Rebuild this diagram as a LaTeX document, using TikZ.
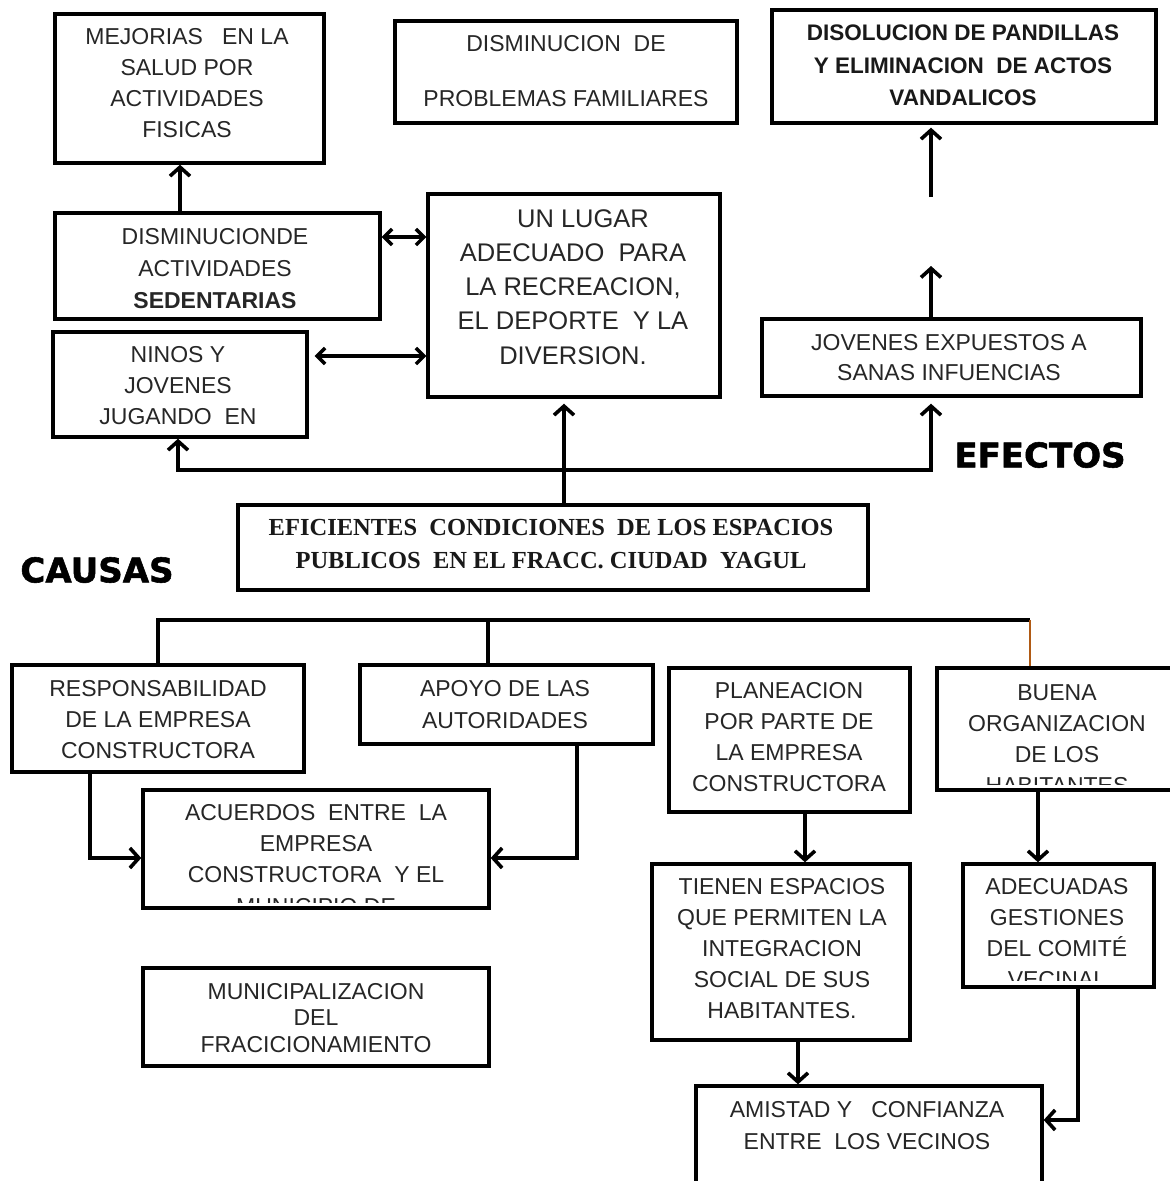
\documentclass[tikz,border=0pt]{standalone}
\usepackage{fontspec}
\setmainfont{Liberation Sans}
\newfontfamily\serifbold{Liberation Serif}
\newfontfamily\heavyfont[FakeBold=1.6]{DejaVu Sans Bold}
\usetikzlibrary{arrows.meta}

\begin{document}
\begin{tikzpicture}[x=1pt,y=-1pt,
  box/.style={draw=black, line width=3.4pt, rectangle, inner sep=0pt},
  txt/.style={inner sep=0pt, align=center, anchor=north, text=black!85,
    font=\fontsize{23}{31}\selectfont},
  txtb/.style={txt, text=black!90, font=\bfseries\fontsize{22.5}{32.5}\selectfont},
  big/.style={txt, font=\fontsize{25.5}{34.25}\selectfont},
  serifhead/.style={txt, text=black!90, font=\serifbold\bfseries\fontsize{24.5}{33}\selectfont},
  heading/.style={inner sep=0pt, font=\heavyfont\fontsize{34}{34}\selectfont},
  link/.style={line width=3.2pt},
  arr/.style={line width=3.2pt, -{Straight Barb[length=9pt,width=20pt,line width=3.6pt]}},
  darr/.style={line width=3.2pt, {Straight Barb[length=8pt,width=16pt,line width=3.4pt]}-{Straight Barb[length=8pt,width=16pt,line width=3.4pt]}}
]
\definecolor{rust}{RGB}{176,90,20}
\useasboundingbox (0,0) rectangle (1170,1181);
\clip (0,0) rectangle (1170,1181);
\fill[white] (0,0) rectangle (1170,1181);

% ---------- effects (upper half) ----------
\node[box, minimum width=269pt, minimum height=149pt] (mej) at (189.5,88.5) {};
\node[txt] (t-mej) at (187,28) {MEJORIAS\ \ \ EN LA\\SALUD POR\\ACTIVIDADES\\FISICAS};

\node[box, minimum width=342pt, minimum height=102pt] (fam) at (566,72) {};
\node[txt] (t-fam) at (566,35) {DISMINUCION\ \ DE\\[24pt]PROBLEMAS FAMILIARES};

\node[box, minimum width=384pt, minimum height=113pt] (dis) at (964,66.5) {};
\node[txtb] (t-dis) at (963,25) {DISOLUCION DE PANDILLAS\\Y ELIMINACION\ \ DE ACTOS\\VANDALICOS};

\node[box, minimum width=325pt, minimum height=106pt] (sed) at (217.5,266) {};
\node[txt, font=\fontsize{23}{32}\selectfont] (t-sed) at (215,228) {DISMINUCIONDE\\ACTIVIDADES\\\textbf{SEDENTARIAS}};

\node[box, minimum width=292pt, minimum height=203pt] (lug) at (574,295.5) {};
\node[big] (t-lug) at (573,209) {\hspace*{20pt}UN LUGAR\\ADECUADO\ \ PARA\\LA RECREACION,\\EL DEPORTE\ \ Y LA\\DIVERSION.};

\node[box, minimum width=254pt, minimum height=105pt] (nin) at (180,384.5) {};
\node[txt] (t-nin) at (178,346) {NINOS Y\\JOVENES\\JUGANDO\ \ EN};

\node[box, minimum width=379pt, minimum height=77pt] (jov) at (951.5,357.5) {};
\node[txt, font=\fontsize{23}{30}\selectfont] (t-jov) at (949,334) {JOVENES EXPUESTOS A\\SANAS INFUENCIAS};

% ---------- central problem ----------
\node[box, minimum width=630pt, minimum height=85pt] (efi) at (553,547.5) {};
\node[serifhead] (t-efi) at (551,519) {EFICIENTES\ \ CONDICIONES\ \ DE LOS ESPACIOS\\PUBLICOS\ \ EN EL FRACC. CIUDAD\ \ YAGUL};

\node[heading] (efectos) at (1040,455) {EFECTOS};
\node[heading] (causas) at (97,570) {CAUSAS};

% ---------- causes (lower half) ----------
\node[box, minimum width=292pt, minimum height=107pt] (res) at (158,718.5) {};
\node[txt] (t-res) at (158,680) {RESPONSABILIDAD\\DE LA EMPRESA\\CONSTRUCTORA};

\node[box, minimum width=293pt, minimum height=79pt] (apo) at (506.5,704.5) {};
\node[txt, font=\fontsize{23}{32}\selectfont] (t-apo) at (505,680) {APOYO DE LAS\\AUTORIDADES};

\node[box, minimum width=241pt, minimum height=144pt] (pla) at (789.5,740) {};
\node[txt] (t-pla) at (789,682) {PLANEACION\\POR PARTE DE\\LA EMPRESA\\CONSTRUCTORA};

\node[box, minimum width=250pt, minimum height=122pt] (bue) at (1062,729) {};
\begin{scope}
  \clip ([xshift=1.5pt,yshift=-1.5pt]bue.north west) rectangle ([xshift=-1.5pt,yshift=7pt]bue.south east);
  \node[txt, font=\fontsize{23}{31.3}\selectfont] (t-bue) at (1057,684) {BUENA\\ORGANIZACION\\DE LOS\\HABITANTES};
\end{scope}

\node[box, minimum width=346pt, minimum height=118pt] (acu) at (316,849) {};
\begin{scope}
  \clip ([xshift=1.5pt,yshift=-1.5pt]acu.north west) rectangle ([xshift=-1.5pt,yshift=7pt]acu.south east);
  \node[txt, font=\fontsize{23}{31.3}\selectfont] (t-acu) at (316,804) {ACUERDOS\ \ ENTRE\ \ LA\\EMPRESA\\CONSTRUCTORA\ \ Y EL\\MUNICIPIO DE};
\end{scope}

\node[box, minimum width=346pt, minimum height=98pt] (mun) at (316,1017) {};
\node[txt, font=\fontsize{23}{26.5}\selectfont] (t-mun) at (316,983) {MUNICIPALIZACION\\DEL\\FRACICIONAMIENTO};

\node[box, minimum width=258pt, minimum height=176pt] (tie) at (781,952) {};
\node[txt] (t-tie) at (782,878) {TIENEN ESPACIOS\\QUE PERMITEN LA\\INTEGRACION\\SOCIAL DE SUS\\HABITANTES.};

\node[box, minimum width=191pt, minimum height=123pt] (ade) at (1058.5,925.5) {};
\begin{scope}
  \clip ([xshift=1.5pt,yshift=-1.5pt]ade.north west) rectangle ([xshift=-1.5pt,yshift=8pt]ade.south east);
  \node[txt] (t-ade) at (1057,878) {ADECUADAS\\GESTIONES\\DEL COMITÉ\\VECINAL};
\end{scope}

\node[box, minimum width=346pt, minimum height=114pt] (ami) at (869,1143) {};
\node[txt, font=\fontsize{23}{32}\selectfont] (t-ami) at (867,1101) {AMISTAD Y\ \ \ CONFIANZA\\ENTRE\ \ LOS VECINOS};

% ---------- guide coordinates ----------
\coordinate (c1) at (180,0);
\coordinate (c2) at (564,0);
\coordinate (c3) at (178,0);
\coordinate (c4) at (931,0);
\coordinate (c5) at (488,0);
\coordinate (c6) at (1030,0);
\coordinate (c7) at (90,0);
\coordinate (c8) at (577,0);
\coordinate (c9) at (805,0);
\coordinate (c10) at (1038,0);
\coordinate (c11) at (798,0);
\coordinate (c12) at (1078,0);
\coordinate (r1) at (0,237);
\coordinate (r2) at (0,356);
\coordinate (r3) at (0,470);
\coordinate (r4) at (0,620);
\coordinate (r5) at (0,858);
\coordinate (r6) at (0,1120);
\coordinate (e1) at (931,266);
\coordinate (e2) at (931,197);

% ---------- effect connectors ----------
\draw[arr] (sed.north -| c1) -- (mej.south -| c1);
\draw[darr] (sed.east |- r1) -- (lug.west |- r1);
\draw[darr, shorten <=6pt] (nin.east |- r2) -- (lug.west |- r2);
\draw[arr, shorten >=5pt] (efi.north -| c2) -- (lug.south -| c2);
\draw[arr] (efi.north -| c2) |- (c3 |- r3) -- (nin.south -| c3);
\draw[arr, shorten >=6pt] (efi.north -| c2) |- (c4 |- r3) -- (jov.south -| c4);
\draw[arr] (jov.north -| c4) -- (e1);
\draw[arr, shorten >=3pt] (e2) -- (dis.south -| c4);

% ---------- cause connectors ----------
\draw[link] (res.north) |- (c6 |- r4);
\draw[link] (c5 |- r4) -- (apo.north -| c5);
\draw[link, draw=rust, line width=2.5pt] (c6 |- r4) -- (bue.north -| c6);
\draw[arr] (res.south -| c7) |- (acu.west |- r5);
\draw[arr] (apo.south -| c8) |- (acu.east |- r5);
\draw[arr] (pla.south -| c9) -- (tie.north -| c9);
\draw[arr] (bue.south -| c10) -- (ade.north -| c10);
\draw[arr] (tie.south -| c11) -- (ami.north -| c11);
\draw[arr] (ade.south -| c12) |- (ami.east |- r6);
\end{tikzpicture}
\end{document}
